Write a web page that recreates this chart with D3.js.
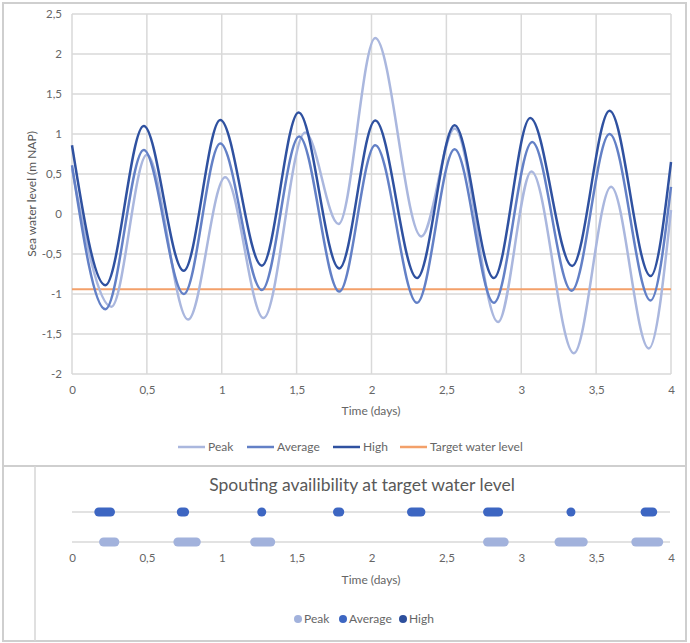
<!DOCTYPE html>
<html>
<head>
<meta charset="utf-8">
<script src="https://cdn.jsdelivr.net/npm/d3@7/dist/d3.min.js"></script>
<style>
  html, body { margin: 0; padding: 0; background: #fff; }
  svg { display: block; font-family: Lato, "Open Sans", sans-serif; }
</style>
</head>
<body>
<svg id="chart" width="690" height="643"></svg>
<script>
// Tide series: time of each turning point (days) and sea level (m NAP)
const highT = [0, 0.223, 0.479, 0.746, 0.99, 1.268, 1.513, 1.785, 2.025, 2.304, 2.555, 2.817, 3.06, 3.34, 3.59, 3.864, 4];
const highV = [0.86, -0.89, 1.10, -0.71, 1.175, -0.646, 1.27, -0.68, 1.17, -0.80, 1.11, -0.80, 1.20, -0.65, 1.29, -0.775, 0.65];

const avgT = [0, 0.223, 0.479, 0.747, 0.99, 1.268, 1.517, 1.785, 2.025, 2.304, 2.555, 2.817, 3.073, 3.336, 3.59, 3.864, 4];
const avgV = [0.61, -1.19, 0.80, -1.0, 0.88, -0.95, 0.97, -0.97, 0.86, -1.11, 0.81, -1.11, 0.90, -0.96, 1.0, -1.08, 0.34];

const peakT = [0, 0.263, 0.50, 0.775, 1.023, 1.279, 1.557, 1.78, 2.025, 2.333, 2.555, 2.845, 3.068, 3.351, 3.60, 3.852, 4];
const peakV = [0.57, -1.16, 0.74, -1.32, 0.46, -1.30, 1.02, -0.125, 2.20, -0.28, 1.07, -1.35, 0.53, -1.74, 0.34, -1.68, 0.05];

const targetLevel = -0.94;

// Spouting windows (days) where the level is below the target
const avgWindows = [[0.179, 0.257], [0.730, 0.752], [1.267, 1.267], [1.773, 1.788], [2.267, 2.330], [2.775, 2.849], [3.332, 3.332], [3.827, 3.878]];
const peakWindows = [[0.211, 0.286], [0.707, 0.830], [1.220, 1.327], [2.775, 2.886], [3.252, 3.414], [3.765, 3.918]];

const xTicks = [0, 0.5, 1, 1.5, 2, 2.5, 3, 3.5, 4];
const yTicks = [-2, -1.5, -1, -0.5, 0, 0.5, 1, 1.5, 2, 2.5];

const colors = { peak: "#aab7de", average: "#6380c6", high: "#2f51a0", target: "#f3a06a" };
const dotColors = { peak: "#a2b2dc", average: "#3d66c2", high: "#2d4f9c" };

const fmt = d => String(d).replace(".", ",");

const svg = d3.select("#chart");
const grid = "#d9d9d9";
const textCol = "#666";

// Panel frames
svg.append("rect").attr("x", 3).attr("y", 3).attr("width", 683).attr("height", 638)
  .attr("fill", "none").attr("stroke", "#cfcfcf").attr("stroke-width", 2);
svg.append("line").attr("x1", 3).attr("x2", 686).attr("y1", 466).attr("y2", 466)
  .attr("stroke", "#cfcfcf").attr("stroke-width", 2);
svg.append("line").attr("x1", 35).attr("x2", 35).attr("y1", 466).attr("y2", 641)
  .attr("stroke", "#d6d6d6").attr("stroke-width", 1.5);

// ---------- Upper chart: sea water level ----------
const x = d3.scaleLinear().domain([0, 4]).range([72, 671]);
const y = d3.scaleLinear().domain([-2, 2.5]).range([374, 14]);

const levelG = svg.append("g");

levelG.append("g").selectAll("line").data(yTicks).join("line")
  .attr("x1", x(0)).attr("x2", x(4))
  .attr("y1", d => y(d)).attr("y2", d => y(d))
  .attr("stroke", grid).attr("stroke-width", 1.5);
levelG.append("g").selectAll("line").data(xTicks).join("line")
  .attr("x1", d => x(d)).attr("x2", d => x(d))
  .attr("y1", y(2.5)).attr("y2", y(-2))
  .attr("stroke", grid).attr("stroke-width", 1.5);

const yAxis = levelG.append("g").attr("transform", `translate(${x(0)},0)`)
  .call(d3.axisLeft(y).tickValues(yTicks).tickFormat(fmt).tickSize(0).tickPadding(10));
yAxis.select(".domain").remove();
yAxis.selectAll("text").attr("fill", textCol).attr("font-size", 11.5).attr("font-family", "Lato, sans-serif");

const xAxis = levelG.append("g").attr("transform", `translate(0,${y(-2)})`)
  .call(d3.axisBottom(x).tickValues(xTicks).tickFormat(fmt).tickSize(0).tickPadding(12));
xAxis.select(".domain").remove();
xAxis.selectAll("text").attr("fill", textCol).attr("font-size", 11.5).attr("font-family", "Lato, sans-serif");

levelG.append("text").attr("x", 371).attr("y", 415).attr("text-anchor", "middle")
  .attr("fill", textCol).attr("font-size", 12).text("Time (days)");
levelG.append("text").attr("transform", "translate(36,194) rotate(-90)").attr("text-anchor", "middle")
  .attr("fill", "#555").attr("font-size", 12).text("Sea water level (m NAP)");

const line = d3.line().x(d => x(d[0])).y(d => y(d[1])).curve(d3.curveMonotoneX);
const series = [
  { key: "peak", name: "Peak", t: peakT, v: peakV },
  { key: "average", name: "Average", t: avgT, v: avgV },
  { key: "high", name: "High", t: highT, v: highV }
];

levelG.append("line").attr("x1", x(0)).attr("x2", x(4))
  .attr("y1", y(targetLevel)).attr("y2", y(targetLevel))
  .attr("stroke", colors.target).attr("stroke-width", 2);

series.forEach(s => {
  levelG.append("path").datum(d3.zip(s.t, s.v)).attr("d", line)
    .attr("fill", "none").attr("stroke", colors[s.key]).attr("stroke-width", 2.5)
    .attr("stroke-linejoin", "round");
});

// Legend of the level chart
const legendLevel = [
  { name: "Peak", color: colors.peak, x: 178 },
  { name: "Average", color: colors.average, x: 247 },
  { name: "High", color: colors.high, x: 333 },
  { name: "Target water level", color: colors.target, x: 400 }
];
legendLevel.forEach(d => {
  levelG.append("line").attr("x1", d.x).attr("x2", d.x + 27).attr("y1", 447).attr("y2", 447)
    .attr("stroke", d.color).attr("stroke-width", 2.5);
  levelG.append("text").attr("x", d.x + 30).attr("y", 451).attr("fill", textCol)
    .attr("font-size", 12).text(d.name);
});

// ---------- Lower chart: spouting availability ----------
const spoutG = svg.append("g");
spoutG.append("text").attr("x", 362).attr("y", 491).attr("text-anchor", "middle")
  .attr("fill", "#595959").attr("font-size", 17.5).text("Spouting availibility at target water level");

const rows = d3.scalePoint().domain(["Average", "Peak"]).range([512, 542]);

spoutG.append("g").selectAll("line").data(rows.domain()).join("line")
  .attr("x1", x(0)).attr("x2", x(4) - 1)
  .attr("y1", d => rows(d)).attr("y2", d => rows(d))
  .attr("stroke", grid).attr("stroke-width", 1.5);

const drawWindows = (wins, row, color) => {
  spoutG.append("g").selectAll("line").data(wins).join("line")
    .attr("x1", d => x(d[0])).attr("x2", d => x(d[1]))
    .attr("y1", rows(row)).attr("y2", rows(row))
    .attr("stroke", color).attr("stroke-width", 9).attr("stroke-linecap", "round");
};
drawWindows(avgWindows, "Average", dotColors.average);
drawWindows(peakWindows, "Peak", dotColors.peak);

const xAxis2 = spoutG.append("g").attr("transform", `translate(0,${rows("Peak")})`)
  .call(d3.axisBottom(x).tickValues(xTicks).tickFormat(fmt).tickSize(0).tickPadding(12));
xAxis2.select(".domain").remove();
xAxis2.selectAll("text").attr("fill", textCol).attr("font-size", 11.5).attr("font-family", "Lato, sans-serif");

spoutG.append("text").attr("x", 371).attr("y", 584).attr("text-anchor", "middle")
  .attr("fill", textCol).attr("font-size", 12).text("Time (days)");

const legendSpout = [
  { name: "Peak", color: dotColors.peak, x: 298 },
  { name: "Average", color: dotColors.average, x: 343 },
  { name: "High", color: dotColors.high, x: 403 }
];
legendSpout.forEach(d => {
  spoutG.append("circle").attr("cx", d.x).attr("cy", 619).attr("r", 4).attr("fill", d.color);
  spoutG.append("text").attr("x", d.x + 6).attr("y", 623).attr("fill", textCol)
    .attr("font-size", 12).text(d.name);
});
</script>
</body>
</html>
